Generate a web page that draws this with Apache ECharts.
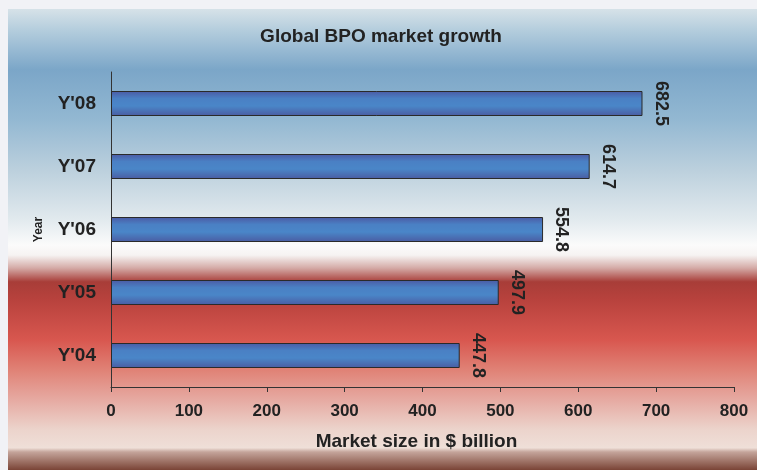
<!DOCTYPE html>
<html>
<head>
<meta charset="utf-8">
<style>
  html, body { margin: 0; padding: 0; background: #f1f2f6; }
  #chart { width: 757px; height: 470px; }
</style>
<script src="https://cdn.jsdelivr.net/npm/echarts@6/dist/echarts.min.js"></script>
</head>
<body>
<div id="chart"></div>
<script>
const years = ["Y'04", "Y'05", "Y'06", "Y'07", "Y'08"]
const marketSize = [447.8, 497.9, 554.8, 614.7, 682.5]
const xTicks = { min: 0, max: 800, interval: 100 }

const font = 'Liberation Sans, Arial, sans-serif'
const textColor = '#222'

const chart = echarts.init(document.getElementById('chart'))

const panelFill = new echarts.graphic.LinearGradient(0, 0, 0, 1, [
  { offset: 0, color: '#d6e2e8' },
  { offset: 0.046, color: '#b4cddd' },
  { offset: 0.132, color: '#7ba6c8' },
  { offset: 0.24, color: '#93b8d2' },
  { offset: 0.35, color: '#bcd0dd' },
  { offset: 0.458, color: '#e2eaee' },
  { offset: 0.512, color: '#fbfbfb' },
  { offset: 0.534, color: '#f6f3f2' },
  { offset: 0.562, color: '#d4aaa6' },
  { offset: 0.592, color: '#a83d38' },
  { offset: 0.631, color: '#b8423d' },
  { offset: 0.718, color: '#d8574f' },
  { offset: 0.783, color: '#e08276' },
  { offset: 0.848, color: '#e6aaa2' },
  { offset: 0.913, color: '#ecd4cc' },
  { offset: 0.952, color: '#efdfd8' },
  { offset: 0.961, color: '#c4a49a' },
  { offset: 1, color: '#7a4436' }
])

const barFill = new echarts.graphic.LinearGradient(0, 0, 0, 1, [
  { offset: 0, color: '#4b5aa4' },
  { offset: 0.3, color: '#4a80c4' },
  { offset: 0.6, color: '#4a86c8' },
  { offset: 1, color: '#4a5ca2' }
])

chart.setOption({
  backgroundColor: '#f1f2f6',
  textStyle: { fontFamily: font },
  graphic: [
    {
      type: 'rect',
      z: -10,
      silent: true,
      shape: { x: 8, y: 9, width: 749, height: 461 },
      style: { fill: panelFill }
    }
  ],
  title: {
    text: 'Global BPO market growth',
    left: 376,
    textAlign: 'center',
    top: 22,
    textStyle: { fontFamily: font, fontSize: 19, fontWeight: 'bold', color: textColor }
  },
  grid: {
    left: 111,
    right: 23,
    top: 72,
    bottom: 83
  },
  xAxis: {
    type: 'value',
    min: xTicks.min,
    max: xTicks.max,
    interval: xTicks.interval,
    name: 'Market size in $ billion',
    nameLocation: 'middle',
    nameGap: 45,
    nameTextStyle: { fontFamily: font, fontSize: 19, fontWeight: 'bold', color: textColor, padding: [0, 12, 0, 0] },
    axisLine: { show: true, lineStyle: { color: '#333', width: 1 } },
    axisTick: { show: true, length: 5, lineStyle: { color: '#333' } },
    axisLabel: { margin: 16, fontFamily: font, fontSize: 17, fontWeight: 'bold', color: textColor },
    splitLine: { show: false }
  },
  yAxis: {
    type: 'category',
    data: years,
    name: 'Year',
    nameLocation: 'middle',
    nameRotate: 90,
    nameGap: 66,
    nameTextStyle: { fontFamily: font, fontSize: 12, fontWeight: 'bold', color: textColor },
    axisLine: { show: true, lineStyle: { color: '#333', width: 1 } },
    axisTick: { show: false },
    axisLabel: { margin: 15, fontFamily: font, fontSize: 19, fontWeight: 'bold', color: textColor },
    splitLine: { show: false }
  },
  series: [
    {
      type: 'bar',
      data: marketSize,
      barWidth: 25,
      itemStyle: {
        color: barFill,
        borderColor: '#2a2a2a',
        borderWidth: 1
      },
      label: {
        show: true,
        position: 'right',
        distance: 18,
        rotate: -90,
        align: 'center',
        verticalAlign: 'middle',
        fontFamily: font,
        fontSize: 18,
        fontWeight: 'bold',
        color: textColor
      }
    }
  ]
})
</script>
</body>
</html>
